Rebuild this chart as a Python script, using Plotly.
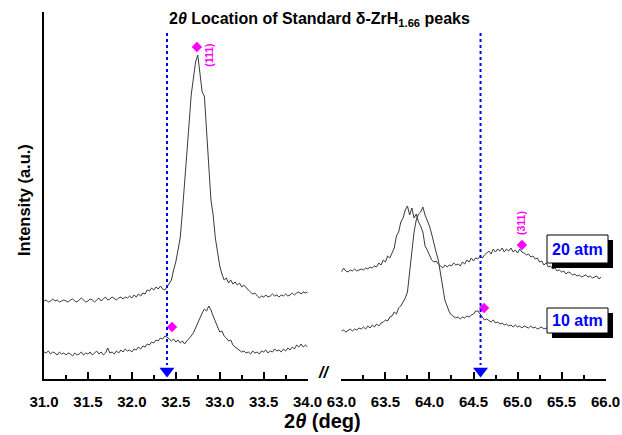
import plotly.graph_objects as go

# ---------------- data ----------------
step = 0.025
two_theta_left = [round(31.0 + step * i, 3) for i in range(121)]
two_theta_right = [round(63.0 + step * i, 3) for i in range(119)]

int_20atm_left = [
    78, 79, 77, 78, 80, 78, 79, 77, 78, 79,
    78, 77, 79, 80, 78, 77, 79, 81, 79, 77,
    78, 80, 79, 77, 79, 81, 78, 80, 82, 79,
    80, 82, 80, 79, 81, 82, 80, 82, 81, 83,
    81, 84, 82, 85, 83, 86, 85, 89, 88, 91,
    89, 92, 90, 93, 90, 89, 92, 96, 99, 109,
    117, 129, 141, 167, 199, 231, 254, 284, 299, 317,
    324, 304, 287, 283, 244, 209, 179, 164, 141, 127,
    113, 105, 99, 101, 96, 99, 95, 97, 94, 96,
    92, 94, 91, 89, 87, 85, 86, 83, 81, 83,
    82, 84, 82, 83, 85, 83, 84, 82, 84, 83,
    85, 83, 84, 86, 84, 86, 87, 85, 87, 86,
    87,
]
int_10atm_left = [
    27, 26, 28, 25, 27, 26, 24, 27, 25, 26,
    24, 26, 25, 23, 26, 24, 25, 27, 24, 26,
    25, 27, 24, 26, 28, 25, 27, 24, 26, 31,
    26, 27, 25, 28, 26, 29, 27, 30, 28, 29,
    27, 30, 29, 32, 30, 33, 32, 35, 34, 37,
    36, 39, 38, 41, 40, 43, 42, 40, 38, 40,
    37, 39, 36, 38, 35, 38, 40, 43, 46, 51,
    57, 62, 66, 70, 68, 73, 69, 63, 57, 52,
    47, 48, 43, 41, 38, 39, 34, 32, 30, 29,
    27, 28, 26, 27, 25, 28, 26, 27, 25, 28,
    27, 29, 26, 28, 27, 30, 28, 29, 27, 30,
    28, 31, 29, 32, 30, 34, 32, 35, 32, 34,
    32,
]
int_20atm_right = [
    107, 111, 108, 107, 109, 108, 110, 108, 109, 110,
    109, 111, 110, 112, 111, 113, 112, 116, 114, 119,
    117, 123, 121, 127, 131, 143, 147, 157, 161, 169,
    173, 164, 171, 161, 165, 157, 153, 147, 133, 129,
    123, 119, 117, 118, 115, 113, 111, 114, 112, 114,
    113, 116, 114, 115, 113, 117, 115, 119, 117, 121,
    118, 121, 120, 123, 121, 124, 126, 128, 125, 130,
    127, 130, 128, 131, 127, 130, 128, 131, 127, 129,
    126, 130, 127, 126, 124, 125, 122, 123, 120, 121,
    117, 118, 114, 116, 112, 113, 110, 111, 108, 109,
    107, 108, 105, 107, 106, 104, 105, 103, 104, 102,
    103, 104, 102, 103, 101, 102, 103, 100, 102,
]
int_10atm_right = [
    48, 49, 47, 49, 50, 48, 50, 49, 51, 50,
    52, 50, 53, 51, 54, 52, 55, 53, 56, 57,
    59, 58, 62, 63, 67, 65, 71, 73, 77, 81,
    87, 107, 129, 147, 159, 165, 167, 172, 164, 159,
    153, 145, 135, 127, 119, 104, 89, 79, 73, 67,
    64, 62, 61, 62, 60, 62, 61, 63, 62, 64,
    65, 68, 68, 65, 62, 59, 60, 58, 57, 59,
    56, 57, 55, 56, 54, 55, 53, 54, 52, 54,
    52, 53, 51, 53, 52, 51, 53, 51, 52, 50,
    51, 52, 50, 51, 49, 51, 50, 52, 50, 51,
    51, 50, 52, 50, 51, 49, 51, 50, 52, 50,
    51, 49, 50, 51, 50, 52, 50, 51, 50,
]

std_peaks = [32.40, 64.58]                 # standard delta-ZrH1.66 positions
peak_20atm = {"(111)": (32.74, 332), "(311)": (65.05, 134)}
peak_10atm = [(32.457, 52), (64.62, 71)]
series_labels = ["20 atm", "10 atm"]

x_ticks_left = [31.0, 31.5, 32.0, 32.5, 33.0, 33.5, 34.0]
x_ticks_right = [63.0, 63.5, 64.0, 64.5, 65.0, 65.5, 66.0]

# ---------------- figure ----------------
W, H = 622, 435
L, R, T, B = 44, 16, 12, 56
PW, PH = W - L - R, H - T - B
FONT = "Liberation Sans, Arial, sans-serif"
LINE = "#3a3a3a"
BLUE = "#0000FF"
MAG = "#FF00FF"

def px(x):
    return (x - L) / PW

def py(y):
    return (H - B - y) / PH

def clamp(v):
    return min(1.0, max(0.0, v))

fig = go.Figure()
for xs, ys, xr in [(two_theta_left, int_20atm_left, "x"),
                   (two_theta_left, int_10atm_left, "x"),
                   (two_theta_right, int_20atm_right, "x2"),
                   (two_theta_right, int_10atm_right, "x2")]:
    fig.add_trace(go.Scatter(x=xs, y=ys, mode="lines",
                             line=dict(color=LINE, width=1), xaxis=xr, yaxis="y"))

# standard peak dotted lines with arrowheads
for i, xs in enumerate(std_peaks):
    xr = "x" if i == 0 else "x2"
    fig.add_shape(type="line", xref=xr, yref="y", x0=xs, x1=xs, y0=346, y1=14,
                  line=dict(color=BLUE, width=2, dash="dot"))
    fig.add_trace(go.Scatter(x=[xs], y=[8], mode="markers",
                             marker=dict(symbol="triangle-down", size=13, color=BLUE),
                             xaxis=xr, yaxis="y"))

# magenta diamonds
for lab, (xv, yv) in peak_20atm.items():
    xr = "x" if xv < 40 else "x2"
    fig.add_trace(go.Scatter(x=[xv], y=[yv], mode="markers",
                             marker=dict(symbol="diamond", size=8, color=MAG),
                             xaxis=xr, yaxis="y"))
for xv, yv in peak_10atm:
    xr = "x" if xv < 40 else "x2"
    fig.add_trace(go.Scatter(x=[xv], y=[yv], mode="markers",
                             marker=dict(symbol="diamond", size=8, color=MAG),
                             xaxis=xr, yaxis="y"))

def note(x, y, text, size, color="black", angle=0, xref="paper", yref="paper"):
    fig.add_annotation(x=x, y=y, xref=xref, yref=yref, text=text, textangle=angle,
                       showarrow=False, xanchor="center", yanchor="middle",
                       font=dict(family=FONT, size=size, color=color))

note(32.875, 324, "<b>(111)</b>", 10.5, MAG, -90, "x", "y")
note(65.04, 156, "<b>(311)</b>", 10.5, MAG, -90, "x2", "y")

# label boxes with shadow
boxes = [(547, 608, 235, 263), (547, 608, 308, 333)]
for lab, (x0, x1, y0, y1) in zip(series_labels, boxes):
    fig.add_shape(type="rect", xref="paper", yref="paper",
                  x0=px(x0 + 5), x1=px(x1 + 5), y0=py(y1 + 5), y1=py(y0 + 5),
                  fillcolor="black", line=dict(width=0), layer="above")
    fig.add_shape(type="rect", xref="paper", yref="paper",
                  x0=px(x0), x1=px(x1), y0=py(y1), y1=py(y0),
                  fillcolor="white", line=dict(color="black", width=1), layer="above")
    note(px((x0 + x1) / 2), py((y0 + y1) / 2), f"<b>{lab}</b>", 16, BLUE)

# title and axis titles
note(px(319), py(20), "<b>2<i>θ</i> Location of Standard δ-ZrH<sub>1.66</sub> peaks</b>", 16)
note(px(322), py(421), "<b>2<i>θ</i> (deg)</b>", 20)
note(px(24), py(200), "<b>Intensity (a.u.)</b>", 16.5, angle=-90)
note(px(323), py(372), "<b><i>//</i></b>", 16)

axis_common = dict(
    showline=True, linecolor="black", linewidth=2,
    showgrid=False, zeroline=False, automargin=False,
    ticks="inside", ticklen=7, tickwidth=1.5, tickcolor="black",
    minor=dict(dtick=0.25, ticks="inside", ticklen=4, tickwidth=1.5, tickcolor="black"),
    tickfont=dict(family=FONT, size=15, color="black", weight="bold"),
    ticklabelstandoff=8,
)

fig.update_layout(
    width=W, height=H,
    margin=dict(l=L, r=R, t=T, b=B),
    paper_bgcolor="white", plot_bgcolor="white",
    showlegend=False,
    xaxis=dict(domain=[clamp(px(43.8)), clamp(px(307.6))], range=[31.0, 34.0],
               tickvals=x_ticks_left, ticktext=[f"{v:.1f}" for v in x_ticks_left],
               anchor="y", **axis_common),
    xaxis2=dict(domain=[clamp(px(341.4)), clamp(px(605.6))], range=[63.0, 66.0],
                tickvals=x_ticks_right, ticktext=[f"{v:.1f}" for v in x_ticks_right],
                anchor="y", **axis_common),
    yaxis=dict(domain=[0, 1], range=[0, PH], anchor="x", automargin=False,
               showline=True, linecolor="black", linewidth=2,
               showgrid=False, zeroline=False, showticklabels=False, ticks=""),
)

fig.write_html("out.html", config={"displayModeBar": False},
               post_script="document.body.style.margin='0px';document.body.style.padding='0px';")
